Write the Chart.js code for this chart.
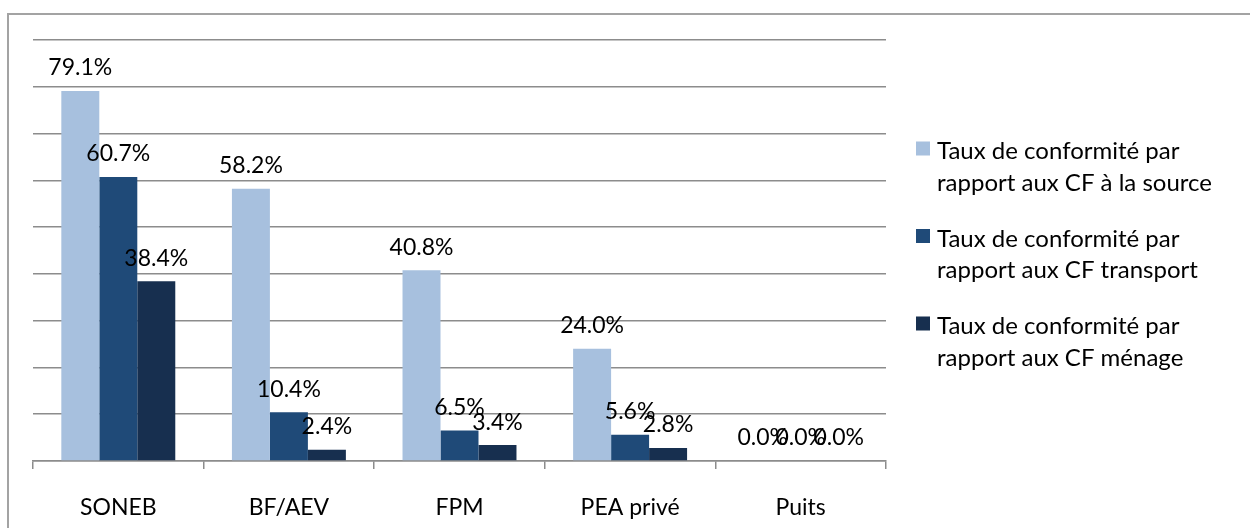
<!DOCTYPE html>
<html>
<head>
<meta charset="utf-8">
<script src="https://cdn.jsdelivr.net/npm/chart.js@4/dist/chart.umd.min.js"></script>
<style>
  html, body { margin: 0; padding: 0; background: #fff; width: 1250px; height: 528px; overflow: hidden; }
  #frame { position: absolute; left: 7px; top: 13px; width: 1400px; height: 700px; border-top: 2px solid #a3a3a3; border-left: 2px solid #a3a3a3; }
  #wrap { position: absolute; left: 0; top: 0; width: 1250px; height: 528px; }
</style>
</head>
<body>
<div id="frame"></div>
<div id="wrap"><canvas id="c" width="1250" height="528"></canvas></div>
<script>
const categories = ['SONEB', 'BF/AEV', 'FPM', 'PEA privé', 'Puits'];
const seriesNames = [
  'Taux de conformité par rapport aux CF à la source',
  'Taux de conformité par rapport aux CF transport',
  'Taux de conformité par rapport aux CF ménage'
];
const sourceRates = [79.1, 58.2, 40.8, 24.0, 0.0];
const transportRates = [60.7, 10.4, 6.5, 5.6, 0.0];
const menageRates = [38.4, 2.4, 3.4, 2.8, 0.0];
const yMax = 90;
const yStep = 10;

const colors = ['#A7C0DE', '#1F4A78', '#172F4F'];
const FONT = 'Lato';
const FS = 23;
const LEGEND_FS = 24;

const dataLabels = {
  id: 'dataLabels',
  afterDatasetsDraw(chart) {
    const ctx = chart.ctx;
    ctx.save();
    ctx.font = FS + 'px ' + FONT;
    ctx.fillStyle = '#000';
    ctx.textAlign = 'center';
    ctx.textBaseline = 'middle';
    chart.data.datasets.forEach((ds, i) => {
      const meta = chart.getDatasetMeta(i);
      meta.data.forEach((bar, j) => {
        ctx.fillText(ds.data[j].toFixed(1) + '%', bar.x, bar.y - 23);
      });
    });
    ctx.restore();
  }
};

const sideLegend = {
  id: 'sideLegend',
  afterDraw(chart) {
    const ctx = chart.ctx;
    const area = chart.chartArea;
    ctx.save();
    ctx.font = LEGEND_FS + 'px ' + FONT;
    ctx.textAlign = 'left';
    ctx.textBaseline = 'middle';
    const boxX = area.right + 30;
    const textX = area.right + 51;
    const maxW = 300;
    const lineH = 31.5;
    const itemGap = 87.5;
    let y0 = 151.5;
    chart.data.datasets.forEach((ds, i) => {
      const words = ds.label.split(' ');
      const lines = [];
      let cur = '';
      words.forEach(w => {
        const t = cur ? cur + ' ' + w : w;
        if (ctx.measureText(t).width > maxW && cur) { lines.push(cur); cur = w; } else { cur = t; }
      });
      if (cur) lines.push(cur);
      const y = y0 + i * itemGap;
      ctx.fillStyle = ds.backgroundColor;
      ctx.fillRect(boxX, y - 10, 14, 14);
      ctx.fillStyle = '#000';
      lines.forEach((l, k) => ctx.fillText(l, textX, y + k * lineH));
    });
    ctx.restore();
  }
};

new Chart(document.getElementById('c'), {
  type: 'bar',
  data: {
    labels: categories,
    datasets: [
      { label: seriesNames[0], data: sourceRates, backgroundColor: colors[0] },
      { label: seriesNames[1], data: transportRates, backgroundColor: colors[1] },
      { label: seriesNames[2], data: menageRates, backgroundColor: colors[2] }
    ]
  },
  options: {
    responsive: false,
    animation: false,
    devicePixelRatio: 1,
    layout: { padding: { left: 33, right: 364, top: 40, bottom: 0 } },
    datasets: { bar: { categoryPercentage: 0.668, barPercentage: 1.0 } },
    plugins: { legend: { display: false }, tooltip: { enabled: false } },
    scales: {
      x: {
        grid: { offset: true, drawOnChartArea: false, drawTicks: true, tickLength: 8, color: '#8c8c8c', lineWidth: 1.5 },
        border: { display: true, color: '#8c8c8c', width: 1.5 },
        ticks: { color: '#000', font: { family: FONT, size: FS }, padding: 25, maxRotation: 0 },
        afterFit(scale) { scale.height = 67; }
      },
      y: {
        min: 0, max: yMax,
        ticks: { display: false, stepSize: yStep },
        grid: { color: '#8c8c8c', lineWidth: 1.5, drawTicks: false },
        border: { display: false },
        afterFit(scale) { scale.width = 0; }
      }
    }
  },
  plugins: [dataLabels, sideLegend]
});
</script>
</body>
</html>
